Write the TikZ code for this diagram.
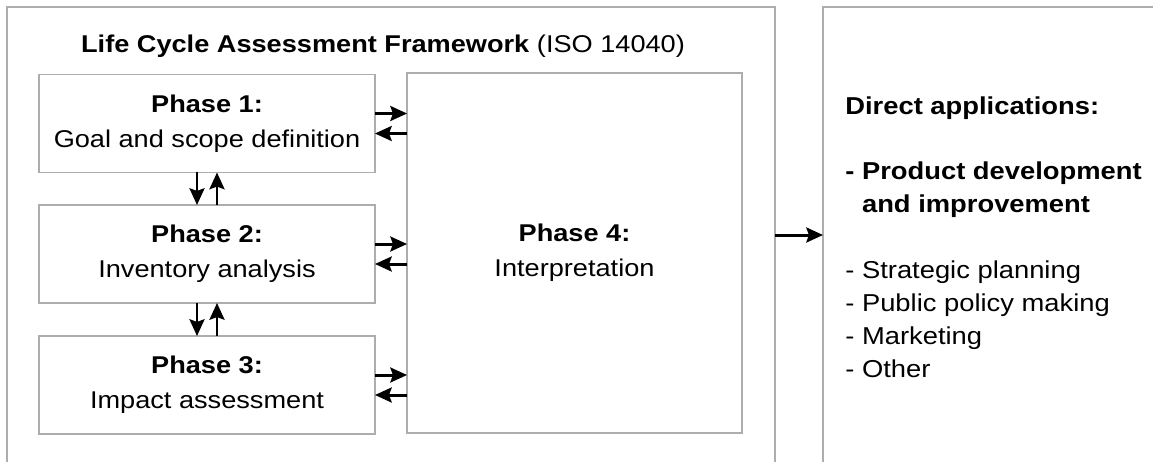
\documentclass[tikz,border=0pt]{standalone}
\usepackage{fontspec}
\setmainfont{Liberation Sans}[FakeStretch=1.12]
\usetikzlibrary{arrows.meta}
\definecolor{framegray}{gray}{0.68}

\tikzset{
  frame/.style={draw=framegray,line width=0.9pt,inner sep=0pt,outer sep=0pt},
  phase/.style={frame,align=center,minimum width=6.72cm,minimum height=1.96cm},
  link/.style={-{Stealth[length=9.5pt,width=8.5pt,inset=1.5pt]},line width=1.7pt},
}

\begin{document}
\begin{tikzpicture}[x=0.02cm,y=-0.02cm,font=\fontsize{13.8}{19.9}\selectfont]
   \useasboundingbox (0,0) rectangle (1153,461);
   \clip (0,0) rectangle (1153,461);
   \node (lca) at (391,235) [frame,minimum width=15.36cm,minimum height=9.12cm] {};
   \node (apps) at (1003,235) [frame,minimum width=7.2cm,minimum height=9.12cm] {};
   \node (title) at (383,52) [anchor=base] {\textbf{Life Cycle Assessment Framework} (ISO 14040)};
   \node (phase1) at (207,123.5) [phase] {\textbf{Phase 1:}\\Goal and scope definition};
   \node (phase2) at (207,254) [phase] {\textbf{Phase 2:}\\Inventory analysis};
   \node (phase3) at (207,385) [phase] {\textbf{Phase 3:}\\Impact assessment};
   \node (phase4) at (574.5,253) [phase,minimum width=6.7cm,minimum height=7.2cm] {\textbf{Phase 4:}\\Interpretation};
   \node (uses) at (845,96) [anchor=north west,align=left,inner sep=0pt,
      font=\fontsize{13.9}{18.7}\selectfont]
      {\textbf{Direct applications:}\\[0.66cm]
       \textbf{- Product development}\\
       \textbf{\hphantom{- }and improvement}\\[0.66cm]
       - Strategic planning\\
       - Public policy making\\
       - Marketing\\
       - Other};
   % phases and interpretation
   \foreach \p in {phase1,phase2,phase3} {
      \draw[link] ([yshift=0.2cm]\p.east) -- ([yshift=0.2cm]\p.east -| phase4.west);
      \draw[link] ([yshift=-0.2cm]\p.east -| phase4.west) -- ([yshift=-0.2cm]\p.east);
   }
   \draw[link] ([xshift=-0.2cm]phase1.south) -- ([xshift=-0.2cm]phase1.south |- phase2.north);
   \draw[link] ([xshift=0.2cm]phase2.north) -- ([xshift=0.2cm]phase2.north |- phase1.south);
   \draw[link] ([xshift=-0.2cm]phase2.south) -- ([xshift=-0.2cm]phase2.south |- phase3.north);
   \draw[link] ([xshift=0.2cm]phase3.north) -- ([xshift=0.2cm]phase3.north |- phase2.south);
   \draw[link] (lca.east) -- (apps.west);
\end{tikzpicture}
\end{document}
